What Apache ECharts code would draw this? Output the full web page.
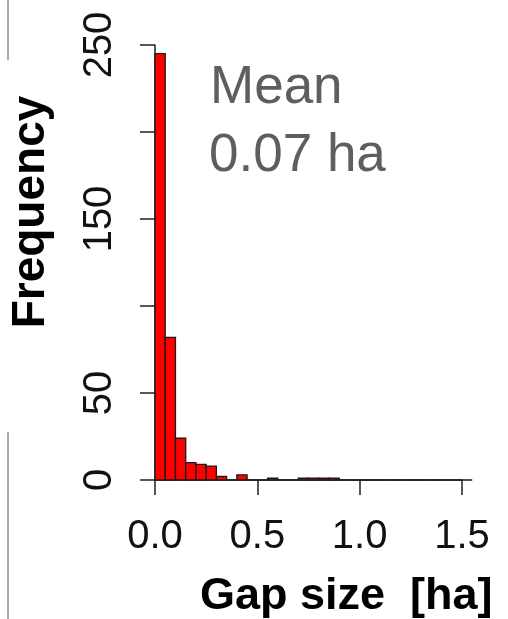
<!DOCTYPE html>
<html>
<head>
<meta charset="utf-8">
<script src="https://cdn.jsdelivr.net/npm/echarts@6/dist/echarts.min.js"></script>
<style>
  html, body { margin: 0; padding: 0; background: #fff; }
  #hist { width: 508px; height: 619px; }
</style>
</head>
<body>
<div id="hist"></div>
<script>
// bin edges of the histogram [ha]
var binEdges = [0, 0.05, 0.1, 0.15, 0.2, 0.25, 0.3, 0.35, 0.4, 0.45, 0.5, 0.55, 0.6, 0.65, 0.7, 0.75,
                0.8, 0.85, 0.9, 0.95, 1.0, 1.05, 1.1, 1.15, 1.2, 1.25, 1.3, 1.35, 1.4, 1.45, 1.5, 1.55];
// counts per bin
var counts = [245, 82, 24, 10, 9, 8, 2, 0, 3, 0, 0, 1, 0, 0, 1, 1,
              1, 1, 0, 0, 0, 0, 0, 0, 0, 0, 0, 0, 0, 0, 0];
var xTicks = [0, 0.5, 1.0, 1.5];
var yTicks = [0, 50, 100, 150, 200, 250];
var yLabelsShown = [0, 50, 150, 250];   // R drops the overlapping ones

var font = "'Liberation Sans', Arial, sans-serif";

var histData = counts.map(function (c, i) {
  return [binEdges[i], binEdges[i + 1], c];
});

var chart = echarts.init(document.getElementById('hist'));

chart.setOption({
  animation: false,
  grid: {
    left: 155,
    top: 45,
    width: 307,
    height: 435
  },
  xAxis: {
    type: 'value',
    min: xTicks[0],
    max: xTicks[xTicks.length - 1],
    interval: 0.5,
    offset: 19,
    axisLine: { show: true, lineStyle: { color: '#222', width: 1.5 } },
    axisTick: { show: true, inside: false, length: 15, lineStyle: { color: '#222', width: 1.5 } },
    axisLabel: {
      color: '#111',
      fontSize: 40,
      fontFamily: font,
      margin: 18,
      formatter: function (v) { return v.toFixed(1); }
    },
    splitLine: { show: false }
  },
  yAxis: {
    type: 'value',
    min: yTicks[0],
    max: yTicks[yTicks.length - 1],
    interval: 50,
    offset: 13,
    axisLine: { show: true, lineStyle: { color: '#222', width: 1.5 } },
    axisTick: { show: true, inside: false, length: 15, lineStyle: { color: '#222', width: 1.5 } },
    axisLabel: {
      color: '#111',
      fontSize: 40,
      fontFamily: font,
      rotate: 90,
      margin: 22,
      formatter: function (v) { return yLabelsShown.indexOf(v) >= 0 ? String(v) : ''; }
    },
    splitLine: { show: false }
  },
  series: [
    {
      type: 'custom',
      clip: false,
      data: histData,
      renderItem: function (params, api) {
        var p0 = api.coord([api.value(0), api.value(2)]);
        var p1 = api.coord([api.value(1), 0]);
        return {
          type: 'rect',
          shape: { x: p0[0], y: p0[1], width: p1[0] - p0[0], height: p1[1] - p0[1] },
          style: { fill: '#ff0000', stroke: '#1a1a1a', lineWidth: 1.3 }
        };
      }
    }
  ],
  graphic: [
    {
      type: 'text', x: 210, y: 88,
      style: { text: 'Mean', fill: '#5e5e5e', font: '53px ' + font, verticalAlign: 'middle', align: 'left' }
    },
    {
      type: 'text', x: 209, y: 156,
      style: { text: '0.07 ha', fill: '#5e5e5e', font: '53px ' + font, verticalAlign: 'middle', align: 'left' }
    },
    {
      type: 'text', x: 31, y: 212, rotation: Math.PI / 2,
      style: { text: 'Frequency', fill: '#000', font: 'bold 46px ' + font, verticalAlign: 'middle', align: 'center' }
    },
    {
      type: 'text', x: 200, y: 597,
      style: { text: 'Gap size  [ha]', fill: '#000', font: 'bold 45px ' + font, verticalAlign: 'middle', align: 'left' }
    },
    {
      type: 'line', shape: { x1: 8, y1: 0, x2: 8, y2: 60 },
      style: { stroke: '#4f5d45', lineWidth: 1 }
    },
    {
      type: 'line', shape: { x1: 8, y1: 432, x2: 8, y2: 619 },
      style: { stroke: '#4f5d45', lineWidth: 1 }
    }
  ]
});
</script>
</body>
</html>
